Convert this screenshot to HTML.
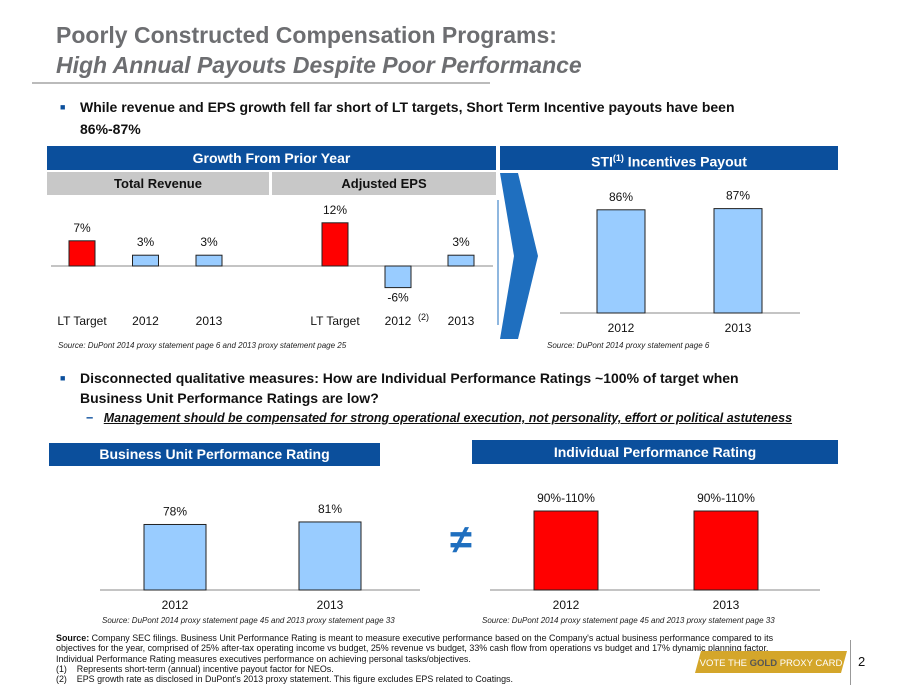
<!DOCTYPE html>
<html><head><meta charset="utf-8"><style>
body{margin:0;width:900px;height:688px;background:#fff;position:relative;overflow:hidden;font-family:"Liberation Sans",Arial,sans-serif}
.a{position:absolute;margin:0}
.hdr{position:absolute;background:#0b4f9c;color:#fff;font-weight:bold;font-size:14px;text-align:center}
.sub{position:absolute;background:#c8c8c8;color:#111;font-weight:bold;font-size:13px;text-align:center}
.src{position:absolute;font-size:8px;font-style:italic;color:#222}
.fn{position:absolute;left:56px;font-size:9.4px;color:#111;line-height:10.3px;white-space:nowrap;transform:scaleX(0.95);transform-origin:left}
</style></head><body>
<div class="a" style="left:56px;top:22px;font-size:23px;font-weight:bold;color:#6d6e71">Poorly Constructed Compensation Programs:</div>
<div class="a" style="left:56px;top:52px;font-size:23px;font-weight:bold;font-style:italic;color:#6d6e71">High Annual Payouts Despite Poor Performance</div>
<div class="a" style="left:32px;top:82px;width:458px;height:2px;background:#bbb"></div>
<div class="a" style="left:60px;top:96px;font-size:14px;font-weight:bold;line-height:22px;color:#111;width:700px"><span style="color:#0b4f9c;position:absolute;left:0;font-size:9px">■</span><span style="display:block;padding-left:20px">While revenue and EPS growth fell far short of LT targets, Short Term Incentive payouts have been 86%-87%</span></div>

<div class="hdr" style="left:47px;top:146px;width:449px;height:24px;line-height:24px">Growth From Prior Year</div>
<div class="sub" style="left:47px;top:172px;width:222px;height:23px;line-height:23px">Total Revenue</div>
<div class="sub" style="left:272px;top:172px;width:224px;height:23px;line-height:23px">Adjusted EPS</div>
<div class="hdr" style="left:500px;top:146px;width:338px;height:24px;line-height:24px">STI<sup style="font-size:9px">(1)</sup> Incentives Payout</div>
<div class="src" style="left:58px;top:341px">Source: DuPont 2014 proxy statement page 6 and 2013 proxy statement page 25</div>
<div class="src" style="left:547px;top:341px">Source: DuPont 2014 proxy statement page 6</div>

<div class="a" style="left:60px;top:368px;font-size:14px;font-weight:bold;line-height:20px;color:#111;width:700px"><span style="color:#0b4f9c;position:absolute;left:0;font-size:9px">■</span><span style="display:block;padding-left:20px">Disconnected qualitative measures: How are Individual Performance Ratings ~100% of target when Business Unit Performance Ratings are low?</span></div>
<div class="a" style="left:86px;top:411px;font-size:12.5px;font-weight:bold;font-style:italic;color:#111"><span style="color:#0b4f9c;font-style:normal">−</span>&nbsp;&nbsp;&nbsp;<u>Management should be compensated for strong operational execution, not personality, effort or political astuteness</u></div>

<div class="hdr" style="left:49px;top:443px;width:331px;height:23px;line-height:23px">Business Unit Performance Rating</div>
<div class="hdr" style="left:472px;top:440px;width:366px;height:24px;line-height:24px">Individual Performance Rating</div>
<div class="src" style="left:102px;top:616px">Source: DuPont 2014 proxy statement page 45  and 2013 proxy statement page 33</div>
<div class="src" style="left:482px;top:616px">Source: DuPont 2014 proxy statement page 45 and 2013 proxy statement page 33</div>

<svg class="a" style="left:0;top:0" width="900" height="688">
<polygon points="500,173 518,173 538,256 518,339 500,339 514,256" fill="#1f6fbf"/>
<line x1="498" y1="200" x2="498" y2="325" stroke="#1f6fbf" stroke-width="1"/>
<g id="g"></g>
<text x="461" y="553" font-size="40" font-weight="bold" fill="#1f6fbf" text-anchor="middle" font-family="Liberation Sans">≠</text>
</svg>

<div class="fn" style="top:633px"><b>Source:</b> Company SEC filings. Business Unit Performance Rating is meant to measure executive performance based on the Company's actual business performance compared to its<br>objectives for the year, comprised of 25% after-tax operating income vs budget, 25% revenue vs budget, 33% cash flow from operations vs budget and 17% dynamic planning factor.<br>Individual Performance Rating measures executives performance on achieving personal tasks/objectives.<br>(1)&nbsp;&nbsp;&nbsp;&nbsp;Represents short-term (annual) incentive payout factor for NEOs.<br>(2)&nbsp;&nbsp;&nbsp;&nbsp;EPS growth rate as disclosed in DuPont's 2013 proxy statement. This figure excludes EPS related to Coatings.</div>
<svg class="a" style="left:695px;top:651px" width="152" height="22"><polygon points="6,0 152,0 146,22 0,22" fill="#d4a62a"/><text x="76" y="15" text-anchor="middle" font-size="9.5" fill="#fff" font-family="Liberation Sans">VOTE THE <tspan font-weight="bold" fill="#555">GOLD</tspan> PROXY CARD</text></svg>
<div class="a" style="left:850px;top:640px;width:1px;height:45px;background:#999"></div>
<div class="a" style="left:858px;top:654px;font-size:13px;color:#111">2</div>

<script>
const revCats=["LT Target","2012","2013"];
const revVals=[7,3,3];
const epsCats=["LT Target","2012","2013"];
const epsVals=[12,-6,3];
const stiCats=["2012","2013"];
const stiVals=[86,87];
const buCats=["2012","2013"];
const buVals=[78,81];
const iprCats=["2012","2013"];
const iprVals=[100,100];
const iprLabels=["90%-110%","90%-110%"];
const NS="http://www.w3.org/2000/svg";
const g=document.getElementById('g');
function mk(t,a,txt){const e=document.createElementNS(NS,t);for(const k in a)e.setAttribute(k,a[k]);if(txt!==undefined)e.textContent=txt;g.appendChild(e);return e;}
function chart(name,cats,vals,labels,cfg){
  const y=v=>cfg.base-v*cfg.k;
  const ax=mk('line',{x1:cfg.x0,x2:cfg.x1,y1:cfg.base,y2:cfg.base,stroke:'#888'});
  
  
  cats.forEach((c,i)=>{
    const cx=cfg.cx0+i*cfg.step, v=vals[i];
    const top=Math.min(y(v),cfg.base), h=Math.abs(y(v)-cfg.base);
    const fill=(cfg.red&&cfg.red(i))?'#ff0000':'#99ccff';
    const r=mk('rect',{x:cx-cfg.w/2,y:top,width:cfg.w,height:h,fill:fill,stroke:'#222','stroke-width':1});
    
    
    const ly=v>=0?y(v)-9:y(v)+14;
    const t=mk('text',{x:cx,y:ly,'text-anchor':'middle','font-size':12,fill:'#111'},labels?labels[i]:v+'%');
    
    
    const c2=mk('text',{x:cx,y:cfg.ly,'text-anchor':'middle','font-size':12,fill:'#111'},c);
    
    
    if(cfg.sup&&cfg.sup===i+1){const s=mk('text',{x:cx+20,y:cfg.ly-5,'font-size':9,fill:'#111'},'(2)');
    
    }
  });
}
chart('revenue',revCats,revVals,null,{x0:51,x1:272,base:266,k:3.6,cx0:82,step:63.5,w:26,ly:325,red:i=>i===0});
chart('eps',epsCats,epsVals,null,{x0:272,x1:493,base:266,k:3.6,cx0:335,step:63,w:26,ly:325,red:i=>i===0,sup:2});
chart('sti',stiCats,stiVals,null,{x0:560,x1:800,base:313,k:1.2,cx0:621,step:117,w:48,ly:332,red:null});
chart('bu',buCats,buVals,null,{x0:100,x1:420,base:590,k:0.84,cx0:175,step:155,w:62,ly:609,red:null});
chart('ipr',iprCats,iprVals,iprLabels,{x0:490,x1:820,base:590,k:0.79,cx0:566,step:160,w:64,ly:609,red:()=>true});
</script>
</body></html>
